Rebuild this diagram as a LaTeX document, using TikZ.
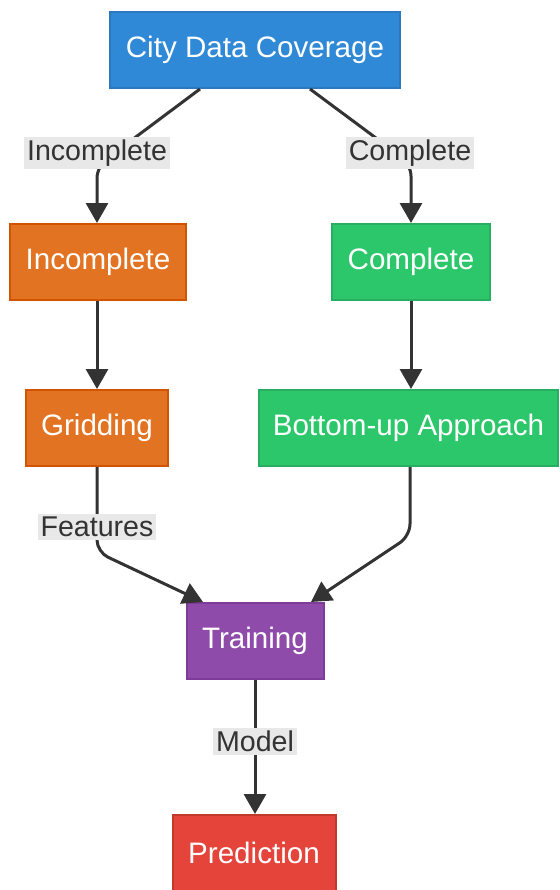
\documentclass[tikz,border=0pt]{standalone}
\usepackage{fontspec}
\setmainfont{Liberation Sans}
\usepackage{xcolor}
\usepackage{tikz}
\usetikzlibrary{arrows.meta, calc}
\definecolor{ink}{HTML}{333333}
\definecolor{bluefill}{HTML}{2F89D6}
\definecolor{blueline}{HTML}{2A78BD}
\definecolor{orangefill}{HTML}{E17322}
\definecolor{orangeline}{HTML}{D35400}
\definecolor{greenfill}{HTML}{2DC76B}
\definecolor{greenline}{HTML}{27AE60}
\definecolor{purplefill}{HTML}{8E4BAA}
\definecolor{purpleline}{HTML}{7D3C98}
\definecolor{redfill}{HTML}{E4443A}
\definecolor{redline}{HTML}{C0392B}
\definecolor{tag}{HTML}{E8E8E8}

\begin{document}
\begin{tikzpicture}[x=0.5pt, y=-0.5pt,
    box/.style={draw, line width=1pt, text=white, minimum height=38pt,
                inner sep=0pt, font=\fontsize{14.8}{17}\selectfont},
    link/.style={ink, line width=1.5pt, rounded corners=6pt,
                 -{Triangle[length=10pt, width=11pt]}},
    tagline/.style={fill=tag, text=ink, inner sep=1.5pt,
                    font=\fontsize{14.3}{17}\selectfont}]
  \useasboundingbox (0,0) rectangle (559,890);

  % boxes, one per step
  \node[box, fill=bluefill, draw=blueline, minimum width=145pt] (cov) at (255,50) {City Data Coverage};
  \node[box, fill=orangefill, draw=orangeline, minimum width=88pt] (inc) at (98,262) {Incomplete};
  \node[box, fill=greenfill, draw=greenline, minimum width=79pt] (comp) at (411,262) {Complete};
  \node[box, fill=orangefill, draw=orangeline, minimum width=71pt] (grid) at (97,428) {Gridding};
  \node[box, fill=greenfill, draw=greenline, minimum width=149.5pt] (bup) at (408.5,428) {Bottom-up Approach};
  \node[box, fill=purplefill, draw=purpleline, minimum width=68.5pt] (train) at (255,641) {Training};
  \node[box, fill=redfill, draw=redline, minimum width=81.5pt] (pred) at (254,853) {Prediction};

  % bends of the connectors
  \coordinate (kinc) at (97,166);
  \coordinate (kcomp) at (411,164);
  \coordinate (kgrid) at (97,552);
  \coordinate (kbup) at (410,536);

  \draw[link] ([xshift=-27.5pt]cov.south) -- (kinc) -- (inc.north -| kinc);
  \draw[link] ([xshift=27.5pt]cov.south) -- (kcomp) -- (comp.north -| kcomp);
  \draw[link] (inc.south -| kinc) -- (grid.north -| kinc);
  \draw[link] (comp.south -| kcomp) -- (bup.north -| kcomp);
  \draw[link] (grid.south -| kgrid) -- (kgrid) -- ([xshift=-26pt]train.north);
  \draw[link] (bup.south -| kbup) -- (kbup) -- ([xshift=28pt]train.north);
  \draw[link] (train.south) -- (train.south |- pred.north);

  % labels on the connectors
  \node[tagline] (tinc) at (97,153) {Incomplete};
  \node[tagline] (tcomp) at (410,153) {Complete};
  \node[tagline] (tfeat) at (97,527) {Features};
  \node[tagline] (tmodel) at (255,741) {Model};
\end{tikzpicture}
\end{document}
